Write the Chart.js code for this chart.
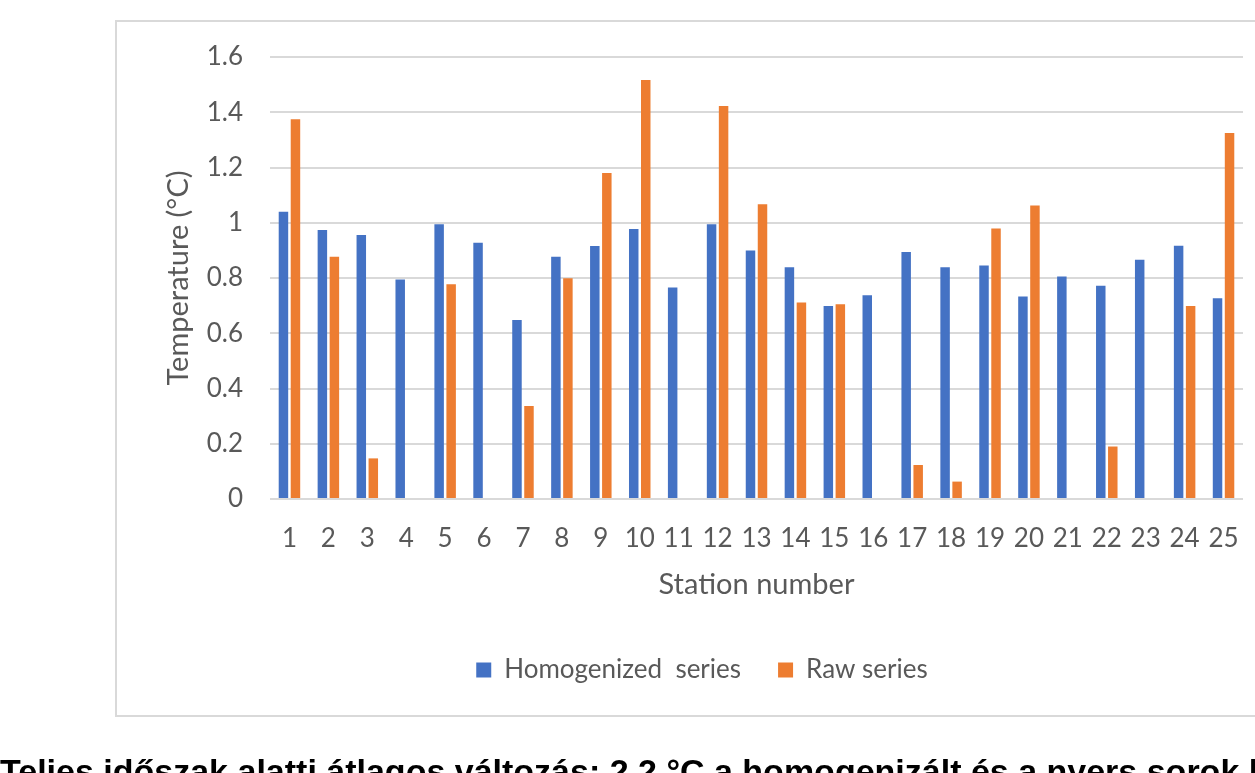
<!DOCTYPE html>
<html>
<head>
<meta charset="utf-8">
<script src="https://cdn.jsdelivr.net/npm/chart.js@4"></script>
<style>
  html, body { margin: 0; padding: 0; background: #fff; overflow: hidden; }
  canvas { display: block; }
</style>
</head>
<body>
<canvas id="chart" width="1255" height="773"></canvas>
<script>
// Station numbers along the x axis
const stations = ['1','2','3','4','5','6','7','8','9','10','11','12','13','14','15','16','17','18','19','20','21','22','23','24','25'];

// Temperature change per station (°C)
const homogenized = [1.04, 0.974, 0.956, 0.795, 0.995, 0.928, 0.648, 0.877, 0.916, 0.977, 0.766, 0.995, 0.90, 0.839, 0.699, 0.738, 0.894, 0.839, 0.845, 0.733, 0.805, 0.772, 0.866, 0.917, 0.727];
const rawSeries   = [1.375, 0.877, 0.147, null, 0.777, null, 0.337, 0.799, 1.18, 1.517, null, 1.423, 1.067, 0.711, 0.705, null, 0.123, 0.063, 0.979, 1.062, null, 0.19, null, 0.699, 1.325];

const seriesNames = ['Homogenized  series', 'Raw series'];
const yTitle = 'Temperature (°C)';
const xTitle = 'Station number';
const caption = 'Teljes időszak alatti átlagos változás: 2,2 °C a homogenizált és a nyers sorok között';

const FONT = 'Lato, "Open Sans", sans-serif';
const TEXT = '#595959';
const GRID = '#d9d9d9';

// White page, light frame around the chart, and the bold caption line below it
const framePlugin = {
  id: 'frame',
  beforeDraw(chart) {
    const ctx = chart.ctx;
    ctx.save();
    ctx.fillStyle = '#fff';
    ctx.fillRect(0, 0, chart.width, chart.height);
    ctx.strokeStyle = GRID;
    ctx.lineWidth = 2;
    ctx.strokeRect(116, 21, 1180, 695);
    ctx.restore();
  },
  afterDraw(chart) {
    const ctx = chart.ctx;
    ctx.save();
    ctx.fillStyle = '#000';
    ctx.font = 'bold 34px "Liberation Sans", Arial, sans-serif';
    ctx.textBaseline = 'alphabetic';
    ctx.fillText(caption, 0, 783);
    ctx.restore();
  }
};

new Chart(document.getElementById('chart'), {
  type: 'bar',
  data: {
    labels: stations,
    datasets: [
      {
        label: seriesNames[0],
        data: homogenized,
        backgroundColor: '#4472C4',
        categoryPercentage: 0.617,
        barPercentage: 0.79
      },
      {
        label: seriesNames[1],
        data: rawSeries,
        backgroundColor: '#ED7D31',
        categoryPercentage: 0.617,
        barPercentage: 0.79
      }
    ]
  },
  options: {
    responsive: false,
    animation: false,
    layout: { padding: { left: 161, top: 57, right: 12, bottom: 80 } },
    plugins: {
      tooltip: { enabled: false },
      legend: {
        position: 'bottom',
        labels: {
          color: TEXT,
          font: { family: FONT, size: 26 },
          boxWidth: 15,
          boxHeight: 15,
          padding: 37
        }
      }
    },
    scales: {
      x: {
        grid: { display: false, drawTicks: false },
        border: { display: false },
        ticks: {
          color: TEXT,
          font: { family: FONT, size: 26 },
          padding: 24,
          maxRotation: 0,
          autoSkip: false
        },
        title: {
          display: true,
          text: xTitle,
          color: TEXT,
          font: { family: FONT, size: 29 },
          padding: { top: 0, bottom: 18 }
        },
        afterFit(scale) {
          scale.height = 121;
          scale.paddingLeft = 0;
          scale.paddingRight = 0;
        }
      },
      y: {
        min: 0,
        max: 1.6,
        grid: { color: GRID, lineWidth: 2, drawTicks: false },
        border: { display: false },
        ticks: {
          stepSize: 0.2,
          color: TEXT,
          font: { family: FONT, size: 26 },
          padding: 27,
          callback: (value) => String(Number(value.toFixed(1)))
        },
        title: {
          display: true,
          text: yTitle,
          color: TEXT,
          font: { family: FONT, size: 29 },
          padding: { top: 0, bottom: 0 }
        },
        afterFit(scale) {
          scale.width = 109;
          scale.paddingTop = 0;
          scale.paddingBottom = 0;
        }
      }
    }
  },
  plugins: [framePlugin]
});
</script>
</body>
</html>
